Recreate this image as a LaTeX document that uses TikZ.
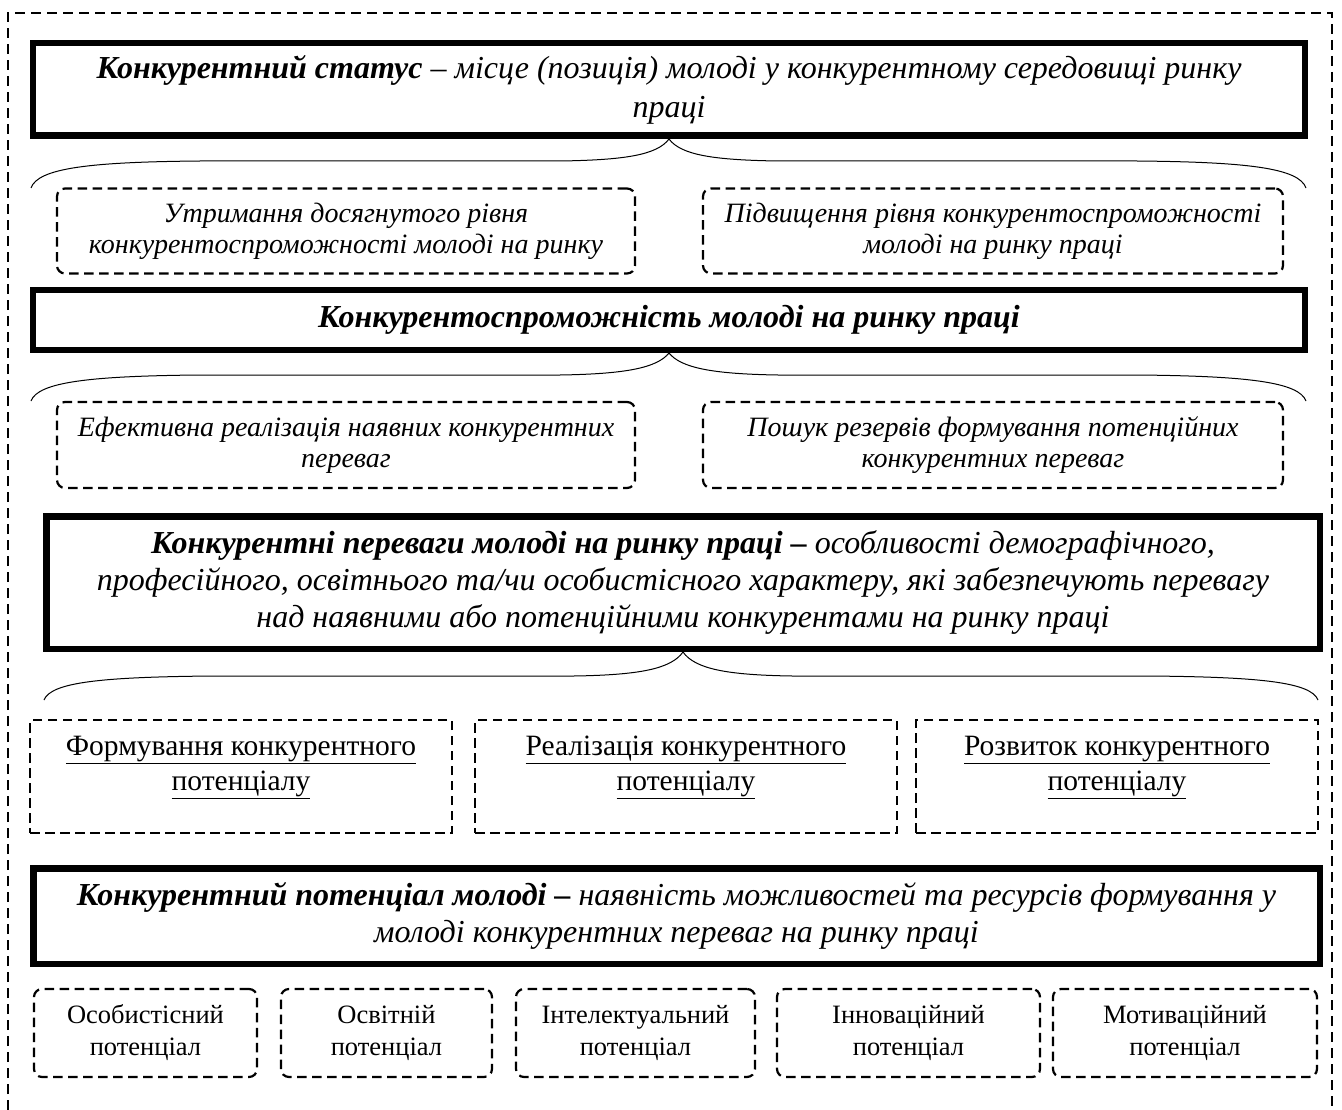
\documentclass[tikz,border=0pt]{standalone}
\usepackage{fontspec}
\setmainfont{Liberation Serif}
\begin{document}
\begin{tikzpicture}[x=1pt,y=-1pt,
  thickbox/.style={draw, line width=6.5pt, align=center, inner sep=0pt, font=\fontsize{32}{37}\selectfont\itshape},
  dbox/.style={draw, line width=2.2pt, dash pattern=on 9.5pt off 5.5pt, rounded corners=8pt, align=center, inner sep=0pt, font=\fontsize{28}{31}\selectfont\itshape},
  sbox/.style={draw, line width=2.2pt, dash pattern=on 9.5pt off 5.5pt, align=center, inner sep=0pt, font=\fontsize{29.5}{35}\selectfont},
  pbox/.style={dbox, font=\fontsize{26.5}{32}\selectfont\upshape},
  brace/.style={line width=1pt},
  frame/.style={line width=2pt, dash pattern=on 10pt off 6pt}
]
\useasboundingbox (0,0) rectangle (1342,1110);
\draw[frame] (8,1110) -- (8,13) -- (1332,13) -- (1332,1110);

% Box 1
\node[thickbox, minimum width=1272pt, minimum height=92.5pt, font=\fontsize{32}{39}\selectfont\itshape] (b1) at (669,89.5)
 {{\bfseries Конкурентний статус} – місце (позиція) молоді у конкурентному середовищі ринку\\ праці};
\coordinate (b1L) at (31,188); \coordinate (b1R) at (1306,188);
\draw[brace] (b1L) .. controls (38,168) and (90,162) .. (200,161) -- (560,161) .. controls (625,160) and (657,155) .. (b1.south);
\draw[brace] (b1R) .. controls (1299,168) and (1247,162) .. (1137,161) -- (778,161) .. controls (713,160) and (681,155) .. (b1.south);

\node[dbox, minimum width=578pt, minimum height=85pt] (r1a) at (346,231)
 {Утримання досягнутого рівня\\ конкурентоспроможності молоді на ринку};
\node[dbox, minimum width=580pt, minimum height=85pt] (r1b) at (993,231)
 {Підвищення рівня конкурентоспроможності\\ молоді на ринку праці};

% Box 2
\node[thickbox, minimum width=1272pt, minimum height=59.5pt] (b2) at (669,320)
 {\bfseries Конкурентоспроможність молоді на ринку праці};
\coordinate (b2L) at (31,401); \coordinate (b2R) at (1306,401);
\draw[brace] (b2L) .. controls (38,382) and (90,376) .. (200,375) -- (560,375) .. controls (625,374) and (657,368) .. (b2.south);
\draw[brace] (b2R) .. controls (1299,382) and (1247,376) .. (1137,375) -- (778,375) .. controls (713,374) and (681,368) .. (b2.south);

\node[dbox, minimum width=578pt, minimum height=86pt] (r2a) at (346,445)
 {Ефективна реалізація наявних конкурентних\\ переваг};
\node[dbox, minimum width=580pt, minimum height=86pt] (r2b) at (993,445)
 {Пошук резервів формування потенційних\\ конкурентних переваг};

% Box 3
\node[thickbox, minimum width=1273.5pt, minimum height=132.5pt] (b3) at (683,582.5)
 {{\bfseries Конкурентні переваги молоді на ринку праці –} особливості демографічного,\\ професійного, освітнього та/чи особистісного характеру, які забезпечують перевагу\\ над наявними або потенційними конкурентами на ринку праці};
\coordinate (b3L) at (44,700); \coordinate (b3R) at (1318,700);
\draw[brace] (b3L) .. controls (51,682) and (103,677) .. (213,676) -- (574,676) .. controls (639,675) and (671,669) .. (b3.south);
\draw[brace] (b3R) .. controls (1311,682) and (1259,677) .. (1149,676) -- (792,676) .. controls (727,675) and (695,669) .. (b3.south);

\node[sbox, minimum width=422pt, minimum height=113pt] (r3a) at (241,776.5)
 {\underline{Формування конкурентного}\\ \underline{потенціалу}\rule[-27pt]{0pt}{1pt}};
\node[sbox, minimum width=422pt, minimum height=113pt] (r3b) at (686,776.5)
 {\underline{Реалізація конкурентного}\\ \underline{потенціалу}\rule[-27pt]{0pt}{1pt}};
\node[sbox, minimum width=402pt, minimum height=113pt] (r3c) at (1117,776.5)
 {\underline{Розвиток конкурентного}\\ \underline{потенціалу}\rule[-27pt]{0pt}{1pt}};

% Box 4
\node[thickbox, minimum width=1286.5pt, minimum height=95.5pt] (b4) at (676.5,916)
 {{\bfseries Конкурентний потенціал молоді –} наявність можливостей та ресурсів формування у\\ молоді конкурентних переваг на ринку праці};

\node[pbox, minimum width=223pt, minimum height=88pt] (p1) at (145.5,1033) {Особистісний\\ потенціал};
\node[pbox, minimum width=211pt, minimum height=88pt] (p2) at (386.5,1033) {Освітній\\ потенціал};
\node[pbox, minimum width=239pt, minimum height=88pt] (p3) at (635.5,1033) {Інтелектуальний\\ потенціал};
\node[pbox, minimum width=263pt, minimum height=88pt] (p4) at (908.5,1033) {Інноваційний\\ потенціал};
\node[pbox, minimum width=264pt, minimum height=88pt] (p5) at (1185,1033) {Мотиваційний\\ потенціал};
\end{tikzpicture}
\end{document}
